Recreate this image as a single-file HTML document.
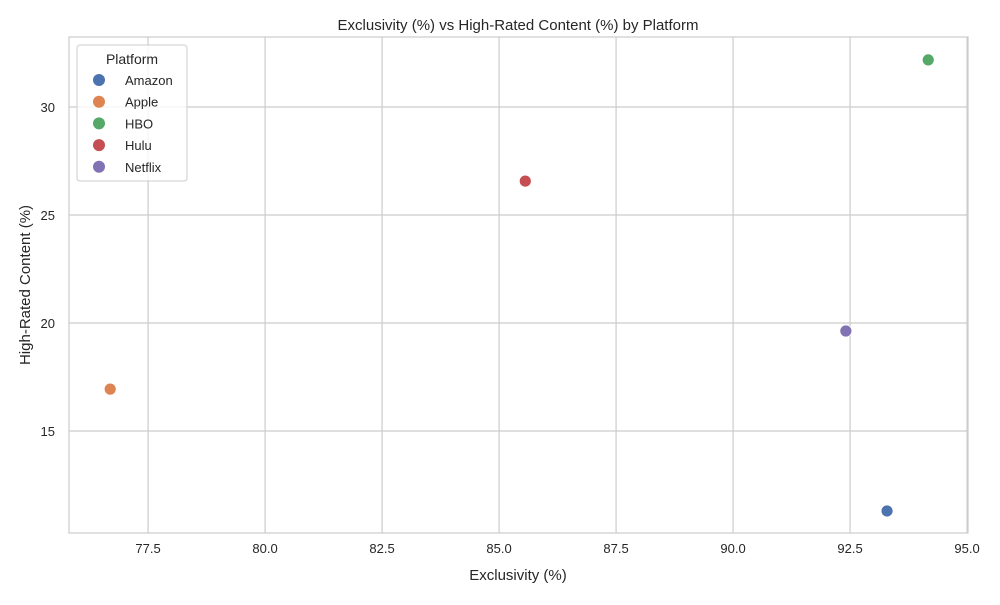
<!DOCTYPE html>
<html><head><meta charset="utf-8"><style>
body{margin:0;background:#fff;font-family:"Liberation Sans",sans-serif;}
svg text{font-family:"Liberation Sans",sans-serif;fill:#262626;}
</style></head><body>
<svg id="chart" width="1000" height="600">
<rect width="1000" height="600" fill="#fff"/>
<g id="grid"></g><g id="ticks"></g><g id="pts"></g>
<rect x="69" y="37" width="899" height="496" fill="none" stroke="#ccc" stroke-width="1.2"/>
<text x="518" y="30" text-anchor="middle" font-size="15">Exclusivity (%) vs High-Rated Content (%) by Platform</text>
<text x="518" y="580" text-anchor="middle" font-size="15">Exclusivity (%)</text>
<text transform="translate(30,285) rotate(-90)" text-anchor="middle" font-size="15">High-Rated Content (%)</text>
<g id="legend">
<rect x="77" y="45" width="110" height="136" rx="3" fill="#fff" fill-opacity="0.8" stroke="#ccc"/>
<text x="132" y="64" text-anchor="middle" font-size="14">Platform</text>
</g>
</svg>
<script>
const platforms=["Amazon","Apple","HBO","Hulu","Netflix"];
const exclusivity=[93.29,76.69,94.17,85.56,92.41];
const highRated=[11.30,16.94,32.18,26.57,19.63];
const xTicks=[77.5,80.0,82.5,85.0,87.5,90.0,92.5,95.0];
const yTicks=[15,20,25,30];
const colors=["#4c72b0","#dd8452","#55a868","#c44e52","#8172b3"];
const NS="http://www.w3.org/2000/svg";
const X0=69,X1=968,Y0=533,Y1=37,xmin=75.81,xmax=95.02,ymin=10.28,ymax=33.24;
const sx=v=>X0+(v-xmin)/(xmax-xmin)*(X1-X0);
const sy=v=>Y0-(v-ymin)/(ymax-ymin)*(Y0-Y1);
function mk(t,a,p){const e=document.createElementNS(NS,t);for(const k in a)e.setAttribute(k,a[k]);p.appendChild(e);return e;}
const g=document.getElementById('grid'),tk=document.getElementById('ticks'),pts=document.getElementById('pts'),lg=document.getElementById('legend');
xTicks.forEach(v=>{const l=mk('line',{x1:sx(v),x2:sx(v),y1:Y1,y2:Y0,stroke:'#ccc','stroke-width':1.2},g);


const t=mk('text',{x:sx(v),y:Y0+20,'text-anchor':'middle','font-size':13},tk);t.textContent=v.toFixed(1);

});
yTicks.forEach(v=>{const l=mk('line',{x1:X0,x2:X1,y1:sy(v),y2:sy(v),stroke:'#ccc','stroke-width':1.2},g);


const t=mk('text',{x:X0-14,y:sy(v)+5,'text-anchor':'end','font-size':13},tk);t.textContent=v;

});
platforms.forEach((p,i)=>{const c=mk('circle',{cx:sx(exclusivity[i]),cy:sy(highRated[i]),r:6,fill:colors[i],stroke:'#fff','stroke-width':0.8},pts);


const y=80+i*21.7;
const m=mk('circle',{cx:99,cy:y,r:6,fill:colors[i]},lg);


const t=mk('text',{x:125,y:y+5,'font-size':13},lg);t.textContent=p;

});
</script>
</body></html>
